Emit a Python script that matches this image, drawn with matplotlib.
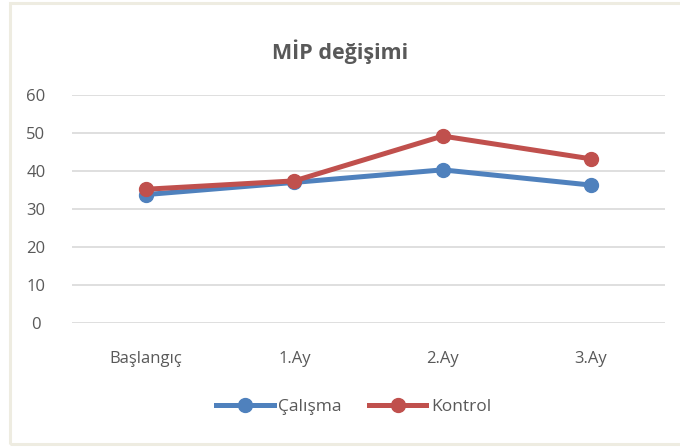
import matplotlib
matplotlib.use('Agg')
import matplotlib.pyplot as plt
from matplotlib.patches import Rectangle

categories = ['Başlangıç', '1.Ay', '2.Ay', '3.Ay']
calisma = [33.8, 37.0, 40.3, 36.3]
kontrol = [35.2, 37.4, 49.2, 43.2]
yticks = [0, 10, 20, 30, 40, 50, 60]

plt.rcParams['font.family'] = ['Open Sans', 'DejaVu Sans']
grey = '#595959'

fig = plt.figure(figsize=(6.8, 4.48), dpi=100)
fig.patch.set_facecolor('white')
# outer chart border (Excel style)
fig.patches.append(Rectangle((10 / 680, 4 / 448), 690 / 680, 441 / 448, transform=fig.transFigure,
                             fill=False, edgecolor='#EEECE1', linewidth=2.2, zorder=0))

ax = fig.add_axes([72 / 680, 1 - 323 / 448, 593 / 680, 228 / 448])
x = list(range(len(categories)))
ax.plot(x, calisma, '-o', color='#4F81BD', lw=3.6, ms=10, label='Çalışma', zorder=3)
ax.plot(x, kontrol, '-o', color='#C0504D', lw=3.6, ms=10, label='Kontrol', zorder=4)

ax.set_xlim(-0.5, 3.5)
ax.set_ylim(0, 60)
ax.set_yticks(yticks)
ax.set_xticks(x)
ax.set_xticklabels(categories)
ax.tick_params(axis='both', length=0, labelsize=12, colors=grey)
ax.tick_params(axis='x', pad=20)
ax.tick_params(axis='y', pad=26)
for lbl in ax.get_yticklabels():
    lbl.set_horizontalalignment('center')
ax.grid(axis='y', color='#D9D9D9', linewidth=1.2)
ax.set_axisbelow(True)
for s in ax.spines.values():
    s.set_visible(False)

fig.text(0.5, 1 - 52 / 448, 'MİP değişimi', ha='center', va='center', fontsize=15.5,
         fontweight='bold', color=grey)

ax.legend(loc='center', bbox_to_anchor=(0.475, -0.37), ncol=2, frameon=False, fontsize=12.5,
          labelcolor=grey, handlelength=3.3, handletextpad=0.25, columnspacing=1.6)

plt.savefig('out.png', dpi=100)
